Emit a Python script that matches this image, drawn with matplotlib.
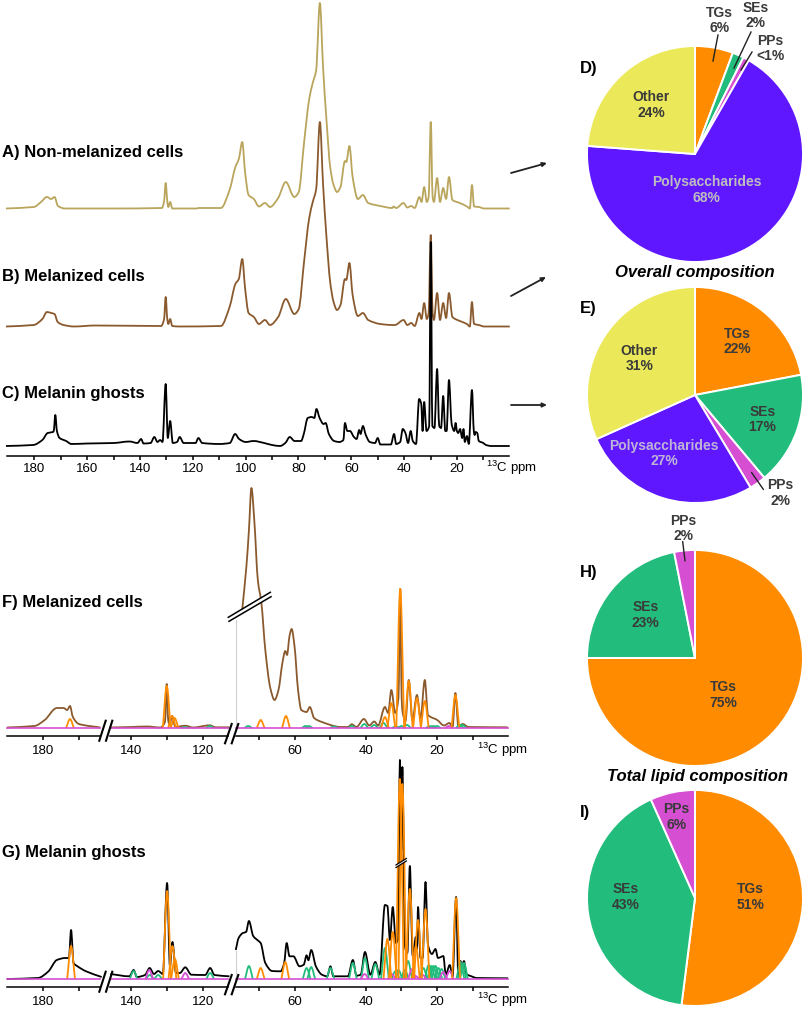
"""13C NMR spectra and composition pies."""

import matplotlib

matplotlib.use("Agg")
import matplotlib.pyplot as plt
from matplotlib.patches import FancyArrowPatch, PathPatch, Polygon
from matplotlib.path import Path

plt.rcParams["font.family"] = ["Liberation Sans", "DejaVu Sans"]
plt.rcParams["mathtext.default"] = "regular"

# traces: (ppm, height above the trace's own baseline)
TRACE_A = [
    (190.8, 0.5), (180.3, 2), (177.5, 7), (175.3, 12), (173.7, 10), (172.4, 12), (171.1, 3), (168.5, 0.5),
    (150, 0.5), (131.7, 1), (130.9, 8), (130.3, 26), (129.7, 8), (129.3, 2), (128.6, 7), (127.8, 0.5),
    (118.5, 0.5), (117.9, 1), (109.4, 1), (106.1, 19), (103.9, 42), (102.6, 50), (101.3, 67), (100.2, 36),
    (98.9, 14), (96.9, 10), (95, 2.5), (92.7, 6), (90.8, 2), (87.7, 11), (84.8, 27), (81.6, 12), (79.9, 17),
    (77.9, 66), (76, 109), (74.6, 126), (73.3, 139), (71.9, 206), (70.7, 142), (69.4, 89), (68, 42),
    (66.7, 24), (65.4, 17), (64.1, 22), (62.4, 48), (61.9, 47), (60.7, 63), (59.5, 32), (57.5, 10),
    (55.6, 14), (53.6, 6), (49, 3), (44.5, 1), (44, 2.5), (43, 1), (40.2, 6), (38.8, 1.5), (37.3, 3),
    (36, 1), (34.2, 12), (33.4, 7), (32.4, 22), (31.4, 7), (30.7, 12), (29.9, 87), (29.2, 12), (28.7, 7),
    (27.5, 31), (26.4, 7), (25.2, 21), (24.1, 10), (23, 32), (21.7, 9), (18.9, 6), (16.2, 2.5), (15.1, 0.5),
    (14.3, 24), (13.5, 2.5), (11.7, 2), (9.7, 0.5), (0, 0.5),
]
TRACE_B = [
    (190.8, 0.5), (180.3, 2), (177, 8), (175.3, 15), (173.7, 14), (172.4, 13), (171.2, 5), (169, 2), (165, 0.5),
    (157, 1.5), (132, 1), (130.9, 8), (130.3, 30), (129.7, 8), (129.3, 3), (128.6, 8), (127.8, 1), (125, 0.5),
    (109.4, 1), (106.1, 20), (103.9, 43), (102.6, 48), (101.3, 68), (100.2, 38), (98.9, 14), (96.9, 10),
    (95, 3), (92.7, 7), (90.8, 2), (87.7, 10), (84.8, 28), (81.6, 13), (79.9, 18), (77.9, 65), (76, 108),
    (74.6, 125), (73.3, 138), (71.9, 205), (70.7, 143), (69.4, 90), (68, 45), (66.7, 25), (65.4, 17),
    (64.1, 22), (62.4, 48), (61.9, 47), (60.7, 64), (59.5, 32), (57.5, 11), (55.6, 14), (53.6, 7), (49, 3),
    (44.5, 2), (43.5, 2), (40.2, 7), (38.8, 2), (37.3, 4), (36, 1), (34.2, 14), (33.4, 8), (32.4, 24),
    (31.4, 8), (30.7, 14), (29.9, 92), (29.2, 14), (28.7, 7), (27.5, 34), (26.4, 7), (25.2, 24), (24.1, 9),
    (23, 34), (21.7, 10), (18.9, 6), (16.2, 3), (15.1, 0.5), (14.3, 25), (13.5, 3), (11.7, 2), (9.7, 0.5),
    (0, 0.5),
]
TRACE_C = [
    (190.8, 0), (180.5, 1), (177, 6), (175, 13), (173, 14), (172.7, 15), (172.1, 31), (171.5, 15), (170.5, 8),
    (168, 5), (166, 2), (160, 2.5), (150, 3), (144, 4.5), (141, 3), (139.6, 7), (138.7, 2.5), (136, 3),
    (134.6, 9), (133.4, 4), (132.4, 6), (131.5, 4), (130.3, 62), (129.5, 8), (128.6, 25), (127.6, 3), (126, 4),
    (125, 9), (123.5, 3), (119, 3), (117.9, 8), (116.5, 3), (110, 2), (106, 3), (104, 12), (102.5, 7),
    (100, 4), (97, 5), (93, 3), (90, 1), (87, 0), (85, 3), (83.3, 9), (81.5, 5), (79, 5), (78, 12), (76.5, 28),
    (75, 29), (74, 28), (73.2, 37), (72, 28), (70.5, 22), (69.7, 23), (68.5, 12), (66.5, 5), (64.5, 4), (63, 6),
    (62.4, 23), (61.5, 15), (60.5, 15), (59, 9), (58, 7), (57, 16), (56.5, 12), (55.6, 20), (54.5, 11),
    (53, 4), (51, 3), (50, 8), (49, 1.5), (45, 1.5), (43.8, 12), (43, 2), (41.5, 4), (40.5, 17), (39.5, 13),
    (38.5, 3), (37.5, 15), (36.7, 5), (35.5, 2), (34.3, 47), (33.5, 42), (33, 15), (32.4, 44), (31.5, 15),
    (30.5, 20), (29.9, 204), (29.3, 20), (28.5, 18), (27.5, 77), (26.7, 20), (26, 18), (25.2, 50), (24.4, 15),
    (23.9, 15), (23, 66), (22, 22), (21, 15), (20.5, 23), (20, 15), (19.5, 13), (18.8, 17), (18, 8), (17.5, 17),
    (17, 4), (16.2, 10), (15.5, 2), (14.3, 56), (13.6, 15), (13.3, 11), (12.9, 14), (12.3, 13), (11.7, 5),
    (10, 3), (9, 1), (7, 0), (0, 0),
]
TRACE_F = [
    (190.2, 0.5), (182.5, 2), (179.6, 8), (176.2, 20), (174.3, 20), (173.3, 18), (172.5, 22), (171.7, 11),
    (170, 4), (164, 0.5),
    None,
    (145.9, 0.5), (140, 1), (135.7, 1.5), (131.9, 0.5), (130.6, 6), (130.1, 44), (129.7, 8), (129.3, 3),
    (128.6, 12), (127.7, 1), (124.9, 2.3), (122.7, 0.5), (118, 2.7), (116.4, 0.7), (112.5, 0.7),
    None,
    (74.7, 118), (73.5, 162), (72.8, 198), (72.1, 240), (71.3, 208), (70.3, 148), (69.3, 125), (68.2, 78),
    (66.8, 40), (65.6, 28), (64.5, 38), (63.4, 65), (62.6, 77), (62.1, 73), (61.4, 92), (60.8, 99), (60, 82),
    (59, 38), (58.1, 18), (56.6, 16), (55.7, 21), (54.5, 10), (52.3, 6), (47, 1), (45, 1), (43.9, 3.7),
    (42.6, 1), (40.5, 9), (39, 2.5), (37.6, 6.5), (36.5, 2.5), (34.6, 21), (33.7, 15), (32.8, 38), (31.7, 15),
    (30.8, 30), (30.3, 139), (29.9, 30), (29.6, 15), (28.8, 7), (27.9, 48), (26.9, 8), (25.6, 33), (24.6, 10),
    (23.4, 48), (22.5, 13), (19.9, 8), (18, 2.5), (16.5, 5), (15.6, 1), (14.8, 35), (14, 2), (12.7, 4),
    (11.2, 1), (0.1, 0.7),
]
TRACE_G = [
    (190.2, 0), (181.5, 1), (178.6, 7.5), (176.2, 19), (173.8, 21), (172.8, 21), (172.2, 49), (171.5, 16),
    (170.4, 12.7), (168, 7.7), (163.6, 2),
    None,
    (145.9, 5), (140.6, 2.7), (139.4, 9), (138.5, 2), (136.2, 4), (134.9, 11), (133.7, 5), (132.5, 8),
    (131.2, 5), (130, 96), (129.2, 12.7), (128.5, 37), (127.5, 6), (126.4, 6), (124.9, 11.7), (123.2, 4.3),
    (119.3, 4), (117.9, 11), (116.7, 4), (112.5, 2.7),
    None,
    (76.5, 29), (75.7, 41), (74.5, 46), (73.6, 47), (72.8, 58), (71.6, 43), (70.1, 38), (69.5, 36), (68.2, 16),
    (66.3, 8), (63.9, 7.7), (62.9, 16), (62.2, 36), (61.4, 22.7), (60.3, 22.7), (58.6, 12.7), (57.4, 14.3),
    (56.6, 23.7), (56.1, 18.7), (55.3, 29), (54, 12.7), (52.3, 4.3), (50.8, 2.7), (49.9, 12.7), (49.1, 2.7),
    (45, 2.7), (43.6, 19), (42.6, 3.3), (41.4, 4.3), (40.2, 27), (38.7, 4.3), (37.3, 17), (36.1, 4.3),
    (34.6, 74), (33.9, 73), (33.2, 39), (32.4, 72), (31.5, 36), (30.9, 40), (30.4, 219), (30, 129), (29.7, 212),
    (29, 33), (28.3, 26), (27.6, 113), (26.8, 23), (25.9, 42), (25.6, 30), (25.3, 72), (24.6, 21), (24, 21),
    (23.2, 97), (22.5, 34), (21.4, 25), (20.4, 30), (19.7, 21), (18.9, 22), (18.2, 23), (17.5, 4.3), (16.4, 14),
    (15.6, 2.7), (14.6, 82), (14, 2.7), (13.4, 18), (12.9, 13), (12.4, 18), (11.7, 5), (10.3, 2.7), (8.8, 1),
    (0, 0.7),
]

# fitted component peaks: (centre ppm, height)
F_TGS = [(172.5, 9), (130.1, 42), (128.6, 12), (127.9, 10), (69.5, 8), (62.4, 12), (34.6, 11), (32.8, 25),
         (30.3, 139), (27.9, 47), (25.6, 30), (23.4, 27), (14.8, 33)]
F_SES = [(73, 2), (56.9, 2), (56, 2), (48.9, 1.5), (43.9, 2), (40.4, 4), (37.6, 3), (35, 5), (31.5, 1.5),
         (29.9, 2), (28.4, 3), (22, 2), (21, 2), (20, 2), (13.6, 3), (12.8, 3), (118, 2), (125, 1)]
F_PPS = [(16.6, 2)]
G_TGS = [(172.2, 33), (130, 88), (128.5, 33), (127.8, 20), (69.5, 11), (62.6, 17), (33.9, 40), (32.4, 47),
         (30.4, 200), (29.7, 195), (27.6, 90), (25.9, 33), (25.3, 59), (23.2, 70), (14.6, 81)]
G_SES = [(139.4, 8), (134.9, 4), (132.5, 4), (117.9, 6), (72.8, 13), (56.6, 11), (55.3, 12), (49.9, 11),
         (43.6, 16), (40.2, 21), (37.3, 15), (34.6, 31), (31.6, 8), (30.8, 9), (29, 9), (28.1, 18), (23.8, 11),
         (22.3, 14), (21.6, 13), (21, 13), (20.4, 13), (19.6, 11), (18.7, 10), (13.4, 17), (12.9, 15), (12.4, 16)]
G_PPS = [(135, 9), (124.9, 6), (40.3, 5), (32.7, 5), (27, 10), (26, 3), (24, 4), (18.2, 7), (16.4, 8)]

TICK_LABELS_TOP = [180, 160, 140, 120, 100, 80, 60, 40, 20]
TICK_LABELS_BROKEN = [[180], [140, 120], [60, 40, 20]]

PIE_D = [5.7, 1.7, 0.9, 67.9, 23.8]
PIE_E = [22, 16.9, 2.5, 26.9, 31.7]
PIE_H = [75, 21.9, 3.1]
PIE_I = [52, 41.3, 6.7]

GOLD = "#B9A55C"
BROWN = "#8A5A2E"
ORANGE = "#FF8C00"
GREEN = "#22BD7C"
MAGENTA = "#D64FD3"
PURPLE = "#5F17FF"
YELLOW = "#EBE85A"
PIE_COLORS = [ORANGE, GREEN, MAGENTA, PURPLE, YELLOW]
TEXT_DARK = "#3A3A3A"
LEADER = "#222222"

W, H = 805, 1009
fig = plt.figure(figsize=(W / 100, H / 100), dpi=100)


def px_axes(x0, y0, x1, y1):
    # rectangle given in picture pixels, y counted from the top
    ax = fig.add_axes([x0 / W, 1 - y1 / H, (x1 - x0) / W, (y1 - y0) / H])
    ax.patch.set_alpha(0)
    return ax


def px_text(x, y, s, **kw):
    kw.setdefault("ha", "center")
    kw.setdefault("va", "center")
    return fig.text(x / W, 1 - y / H, s, **kw)


def px_line(xs, ys, **kw):
    kw.setdefault("color", "black")
    fig.add_artist(plt.Line2D([x / W for x in xs], [1 - y / H for y in ys], **kw))


def split_trace(trace):
    parts, cur = [], []
    for item in trace:
        if item is None:
            parts.append(cur)
            cur = []
        else:
            cur.append(item)
    parts.append(cur)
    return parts


def curve_path(pts):
    # bezier through the read points, flat at each local top or valley
    slopes = [(b[1] - a[1]) / (b[0] - a[0]) for a, b in zip(pts, pts[1:])]
    tangents = [slopes[0]]
    for s0, s1 in zip(slopes, slopes[1:]):
        tangents.append(0 if s0 * s1 <= 0 else 2 * s0 * s1 / (s0 + s1))
    tangents.append(slopes[-1])
    verts = [pts[0]]
    codes = [Path.MOVETO]
    for i, (a, b) in enumerate(zip(pts, pts[1:])):
        dx = (b[0] - a[0]) / 3
        verts += [(a[0] + dx, a[1] + tangents[i] * dx), (b[0] - dx, b[1] - tangents[i + 1] * dx), b]
        codes += [Path.CURVE4] * 3
    return Path(verts, codes)


def draw_curve(ax, pts, color, lw=1.3, zorder=2):
    ax.add_patch(PathPatch(curve_path(pts), fill=False, edgecolor=color, lw=lw, zorder=zorder,
                           clip_on=False, joinstyle="round"))


def draw_trace(ax, trace, color, offset=0, zorder=2):
    for part in split_trace(trace):
        if len(part) > 1:
            draw_curve(ax, [(p, v + offset) for p, v in part], color, zorder=zorder)


def draw_peaks(ax, peaks, color, half_width=1.1, zorder=3):
    lo, hi = sorted(ax.get_xlim())
    for c, h in peaks:
        if lo <= c <= hi:
            draw_curve(ax, [(c + half_width, 0), (c, h), (c - half_width, 0)], color, zorder=zorder)


def style_axis(ax, labels, pad):
    for side in ("top", "left", "right"):
        ax.spines[side].set_visible(False)
    ax.spines["bottom"].set_linewidth(1.1)
    ax.set_yticks([])
    ax.set_xticks(labels, labels=[str(v) for v in labels], fontsize=9.5)
    hi, lo = ax.get_xlim()
    ax.set_xticks([v for v in range(10, 190, 10) if lo < v < hi and v not in labels], minor=True)
    ax.tick_params(axis="x", which="both", length=3.2, width=1.1, pad=pad)


def draw_pie(cx, cy, values):
    r = 108
    ax = px_axes(cx - r, cy - r, cx + r, cy + r)
    ax.pie(values, colors=PIE_COLORS[:len(values)], startangle=90, counterclock=False, radius=1,
           wedgeprops={"edgecolor": "white", "linewidth": 1.4})
    ax.set_xlim(-1, 1)
    ax.set_ylim(-1, 1)
    for a in ax.patches:
        a.set_clip_on(False)


def trace_in(trace, ax):
    hi, lo = ax.get_xlim()
    return [item for item in trace if item is None or lo - 0.7 <= item[0] <= hi + 0.7]


def broken_panel(axis_y, base_y, top_y, trace, color, tgs, ses, pps, grey_top):
    # three pieces of x axis at 3.56 px per ppm: px range, then one ppm/px pair
    pieces = [(7, 100, 180, 43.3), (110, 228, 140, 131.5), (235.5, 508, 60, 294.5)]
    for (x0, x1, ref_ppm, ref_px), ticks in zip(pieces, TICK_LABELS_BROKEN):
        ax = px_axes(x0, top_y, x1, axis_y)
        ax.set_xlim(ref_ppm + (ref_px - x0) / 3.56, ref_ppm + (ref_px - x1) / 3.56)
        ax.set_ylim(base_y - axis_y, base_y - top_y)
        draw_trace(ax, trace_in(trace, ax), color)
        draw_peaks(ax, ses, GREEN, zorder=3)
        draw_peaks(ax, pps, MAGENTA, zorder=4)
        draw_peaks(ax, tgs, ORANGE, zorder=5)
        ax.plot(ax.get_xlim(), [0, 0], color=MAGENTA, lw=1.2, zorder=6, clip_on=False)
        style_axis(ax, ticks, 3.5)
        if x0 == 235.5:
            left = ax.get_xlim()[0]
            ax.plot([left, left], [0, grey_top], color="#D0D0D0", lw=0.8, zorder=1, clip_on=False)


# A-C stacked spectra, heights in pixels above each baseline
ax_top = px_axes(7, 0, 509, 456)
ax_top.set_xlim(190.4, 0.27)
ax_top.set_ylim(0, 456)
draw_trace(ax_top, TRACE_A, GOLD, offset=247)
draw_trace(ax_top, TRACE_B, BROWN, offset=129)
draw_trace(ax_top, TRACE_C, "black", offset=10, zorder=3)
style_axis(ax_top, TICK_LABELS_TOP, 2)
px_text(511.5, 468, r"$^{13}$C ppm", fontsize=9.5)

broken_panel(736, 728, 484, TRACE_F, BROWN, F_TGS, F_SES, F_PPS, 108)
broken_panel(986.5, 979, 750, TRACE_G, "black", G_TGS, G_SES, G_PPS, 28)
px_text(502.5, 749.5, r"$^{13}$C ppm", fontsize=9.5)
px_text(502.5, 999.5, r"$^{13}$C ppm", fontsize=9.5)

# slashes over the broken x axes
for top, bot in [(720.7, 740.7), (971.7, 991.7)]:
    px_line([99.3, 105.7], [bot, top], lw=1.5)
    px_line([106, 112.3], [bot, top], lw=1.5)
for top, bot in [(724, 743.3), (975, 994.3)]:
    px_line([225, 231.7], [bot, top], lw=1.5)
    px_line([231.7, 238.3], [bot, top], lw=1.5)

# breaks across the tall peaks
for pts in [[(228.3, 617.3), (270.3, 592.3), (271, 596.7), (229, 621.3)],
            [(396, 865), (406.3, 858.5), (406.3, 861), (396, 867.5)]]:
    fig.add_artist(Polygon([(x / W, 1 - y / H) for x, y in pts], closed=True, facecolor="white",
                           edgecolor="none", zorder=7))
px_line([228.3, 270.3], [617.3, 592.3], lw=1.1, zorder=8)
px_line([229, 271], [621.3, 596.7], lw=1.1, zorder=8)
px_line([396, 406.3], [865, 858.5], lw=0.9, zorder=8)
px_line([396, 406.3], [867.5, 861], lw=0.9, zorder=8)

# panel titles
for y, s in [(152, "A) Non-melanized cells"), (276, "B) Melanized cells"), (393, "C) Melanin ghosts"),
             (603, "F) Melanized cells"), (853, "G) Melanin ghosts")]:
    px_text(2, y, s, ha="left", fontsize=12, fontweight="bold")
for x, y, s in [(589, 69, "D)"), (588, 309, "E)"), (589, 572, "H)"), (585, 812, "I)")]:
    px_text(x, y, s, fontsize=12, fontweight="bold")

# arrows from spectra to pies
for (x0, y0), (x1, y1) in [((511, 173), (547, 163)), ((511, 296), (546, 277)), ((511, 405), (547, 405))]:
    fig.add_artist(FancyArrowPatch(
        (x0 / W, 1 - y0 / H), (x1 / W, 1 - y1 / H), transform=fig.transFigure,
        arrowstyle="-|>,head_length=2.5,head_width=1.2", lw=1.3, color=LEADER, shrinkA=0, shrinkB=0))

# pies
draw_pie(695, 154, PIE_D)
draw_pie(695, 395, PIE_E)
draw_pie(695, 658, PIE_H)
draw_pie(695, 898, PIE_I)

lab = {"fontsize": 10, "fontweight": "bold", "linespacing": 1.12, "zorder": 10}
for x, y, s, c in [
    (719.3, 20.7, "TGs\n6%", TEXT_DARK), (755.7, 15.3, "SEs\n2%", TEXT_DARK), (770.3, 48.3, "PPs\n<1%", TEXT_DARK),
    (651, 105, "Other\n24%", TEXT_DARK), (706.7, 190, "Polysaccharides\n68%", "#BDBDBD"),
    (737, 341.3, "TGs\n22%", TEXT_DARK), (762.3, 419.3, "SEs\n17%", TEXT_DARK), (780, 493, "PPs\n2%", TEXT_DARK),
    (664, 453.7, "Polysaccharides\n27%", "#BDB4D8"), (639.3, 358.7, "Other\n31%", TEXT_DARK),
    (723.7, 695, "TGs\n75%", TEXT_DARK), (645.3, 615, "SEs\n23%", TEXT_DARK), (683.3, 528.3, "PPs\n2%", TEXT_DARK),
    (750.3, 897, "TGs\n51%", TEXT_DARK), (625.7, 897, "SEs\n43%", TEXT_DARK), (676.7, 817, "PPs\n6%", TEXT_DARK),
]:
    px_text(x, y, s, color=c, **lab)

px_line([718, 713], [35, 61], lw=1, color=LEADER, zorder=10)
px_line([751, 734], [32, 68], lw=1, color=LEADER, zorder=10)
px_line([752, 741], [52, 70], lw=1, color=LEADER, zorder=10)
px_line([751.7, 763.3], [472.7, 489.3], lw=1, color=LEADER, zorder=10)
px_line([682.7, 685], [541.7, 560.7], lw=1, color=LEADER, zorder=10)

px_text(695, 273, "Overall composition", fontsize=12, fontweight="bold", fontstyle="italic")
px_text(697, 777, "Total lipid composition", fontsize=12, fontweight="bold", fontstyle="italic")

fig.savefig("out.png", dpi=100)
plt.close(fig)
